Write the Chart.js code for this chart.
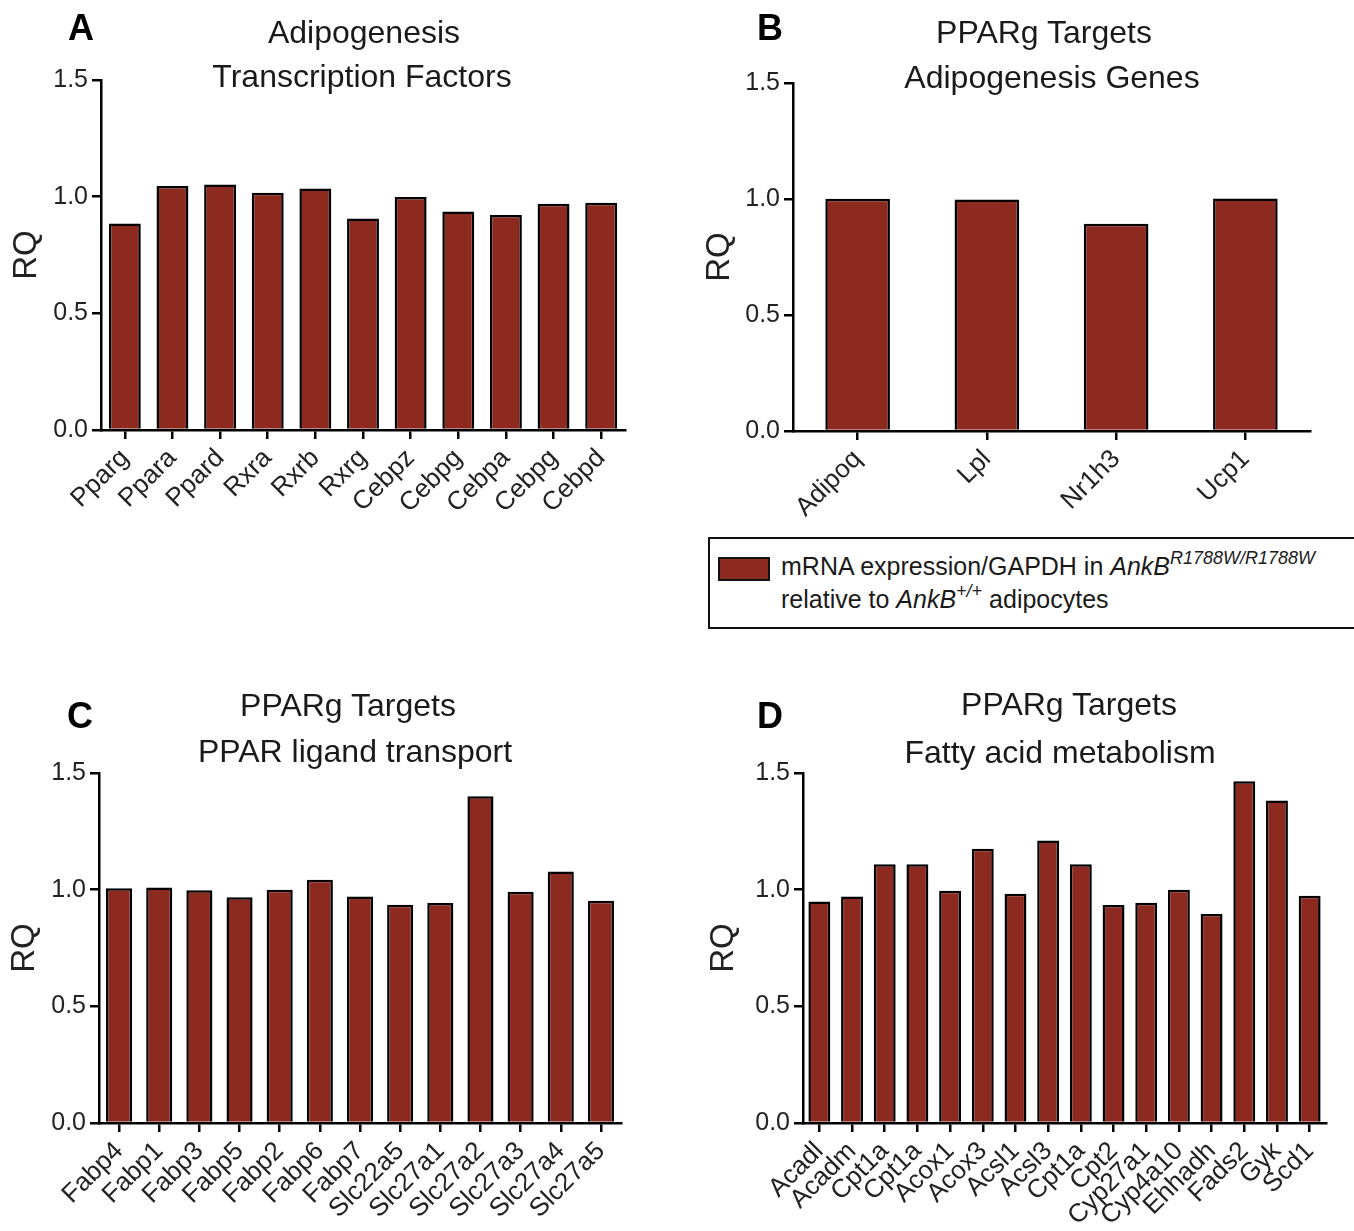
<!DOCTYPE html>
<html>
<head>
<meta charset="utf-8">
<script src="https://cdn.jsdelivr.net/npm/chart.js@4.4.1/dist/chart.umd.min.js"></script>
<style>
  html, body { margin:0; padding:0; background:#fff; }
  body { width:1354px; height:1231px; position:relative; overflow:hidden; font-family:"Liberation Sans", Arial, sans-serif; color:#1a1a1a; }
  canvas { position:absolute; }
  .t { position:absolute; font-size:32px; line-height:32px; white-space:nowrap; text-align:center; width:600px; }
  .lt { position:absolute; font-size:36px; line-height:36px; font-weight:bold; color:#000; }
  .leg { position:absolute; left:708px; top:537px; width:700px; height:88px; border:2px solid #111; }
  .sw { position:absolute; left:8px; top:18px; width:48px; height:20px; border:2px solid #111; background:#8c2a20; }
  .ll { position:absolute; font-size:25px; line-height:25px; white-space:nowrap; }
  .sup { position:relative; top:-11px; font-size:18px; font-style:italic; }
</style>
</head>
<body>
<canvas id="cA" width="680" height="520" style="left:0px;top:0px;width:680px;height:520px"></canvas>
<canvas id="cB" width="664" height="520" style="left:690px;top:0px;width:664px;height:520px"></canvas>
<canvas id="cC" width="680" height="551" style="left:0px;top:680px;width:680px;height:551px"></canvas>
<canvas id="cD" width="664" height="551" style="left:690px;top:680px;width:664px;height:551px"></canvas>

<div class="lt" style="left:68px;top:10px">A</div>
<div class="t" style="left:64px;top:16px">Adipogenesis</div>
<div class="t" style="left:62px;top:60px">Transcription Factors</div>

<div class="lt" style="left:757px;top:10px">B</div>
<div class="t" style="left:744px;top:16px">PPARg Targets</div>
<div class="t" style="left:752px;top:61px">Adipogenesis Genes</div>

<div class="lt" style="left:67px;top:698px">C</div>
<div class="t" style="left:48px;top:689px">PPARg Targets</div>
<div class="t" style="left:55px;top:735px">PPAR ligand transport</div>

<div class="lt" style="left:757px;top:698px">D</div>
<div class="t" style="left:769px;top:688px">PPARg Targets</div>
<div class="t" style="left:760px;top:736px">Fatty acid metabolism</div>

<div class="leg">
  <div class="sw"></div>
  <div class="ll" style="left:71px;top:15px">mRNA expression/GAPDH in <i>AnkB</i><span class="sup">R1788W/R1788W</span></div>
  <div class="ll" style="left:71px;top:48px">relative to <i>AnkB</i><span class="sup">+/+</span> adipocytes</div>
</div>

<script>
// ---- data ----
const labelsA = ["Pparg","Ppara","Ppard","Rxra","Rxrb","Rxrg","Cebpz","Cebpg","Cebpa","Cebpg","Cebpd"];
const valuesA = [0.885, 1.046, 1.052, 1.017, 1.035, 0.906, 0.999, 0.936, 0.921, 0.970, 0.974];

const labelsB = ["Adipoq","Lpl","Nr1h3","Ucp1"];
const valuesB = [1.001, 0.998, 0.893, 1.002];

const labelsC = ["Fabp4","Fabp1","Fabp3","Fabp5","Fabp2","Fabp6","Fabp7","Slc22a5","Slc27a1","Slc27a2","Slc27a3","Slc27a4","Slc27a5"];
const valuesC = [1.006, 1.009, 0.998, 0.967, 1.000, 1.042, 0.971, 0.935, 0.943, 1.400, 0.991, 1.078, 0.953];

const labelsD = ["Acadl","Acadm","Cpt1a","Cpt1a","Acox1","Acox3","Acsl1","Acsl3","Cpt1a","Cpt2","Cyp27a1","Cyp4a10","Ehhadh","Fads2","Gyk","Scd1"];
const valuesD = [0.949, 0.971, 1.109, 1.109, 0.995, 1.175, 0.983, 1.211, 1.109, 0.934, 0.944, 1.000, 0.896, 1.465, 1.382, 0.974];

const yTicks = [0, 0.5, 1.0, 1.5];

// ---- drawing ----
Chart.defaults.font.family = '"Liberation Sans", Arial, sans-serif';
const BAR = '#8c2a20';
const INK = '#000';
const TXT = '#222';

function makeChart(id, labels, values, c) {
  new Chart(document.getElementById(id), {
    type: 'bar',
    data: {
      labels: labels,
      datasets: [{
        data: values,
        backgroundColor: BAR,
        borderColor: INK,
        borderWidth: 2.5,
        categoryPercentage: 1.0,
        barPercentage: c.barPct
      }]
    },
    options: {
      responsive: false,
      animation: false,
      events: [],
      layout: { padding: { top: c.top, right: c.right, left: 0, bottom: 0 } },
      plugins: { legend: { display: false }, tooltip: { enabled: false }, title: { display: false } },
      scales: {
        x: {
          grid: { display: true, offset: false, drawOnChartArea: false, drawTicks: true, tickLength: 9, color: INK, lineWidth: 2.5 },
          border: { display: true, color: INK, width: 2.5 },
          ticks: { autoSkip: false, maxRotation: 45, minRotation: 45, color: TXT, font: { size: 26 }, padding: 4 },
          afterFit: s => { s.height = c.xh; }
        },
        y: {
          min: 0, max: 1.5,
          afterBuildTicks: s => { s.ticks = yTicks.map(v => ({ value: v })); },
          ticks: { color: TXT, font: { size: 25 }, padding: 4, callback: v => Number(v).toFixed(1) },
          grid: { display: true, drawOnChartArea: false, drawTicks: true, tickLength: 9, color: INK, lineWidth: 2.5 },
          border: { display: true, color: INK, width: 2.5 },
          title: { display: true, text: 'RQ', color: TXT, font: { size: 33 }, padding: { top: c.rqPad, bottom: 0 } },
          afterFit: s => { s.width = c.yw; }
        }
      }
    }
  });
}

makeChart('cA', labelsA, valuesA, { top: 80, right: 55, xh: 90, yw: 101, rqPad: 7, barPct: 0.67 });
makeChart('cB', labelsB, valuesB, { top: 83, right: 44, xh: 89, yw: 103, rqPad: 10, barPct: 0.5 });
makeChart('cC', labelsC, valuesC, { top: 93, right: 59, xh: 108, yw: 99, rqPad: 5, barPct: 0.65 });
makeChart('cD', labelsD, valuesD, { top: 93, right: 28, xh: 108, yw: 113, rqPad: 14, barPct: 0.67 });
</script>
</body>
</html>
